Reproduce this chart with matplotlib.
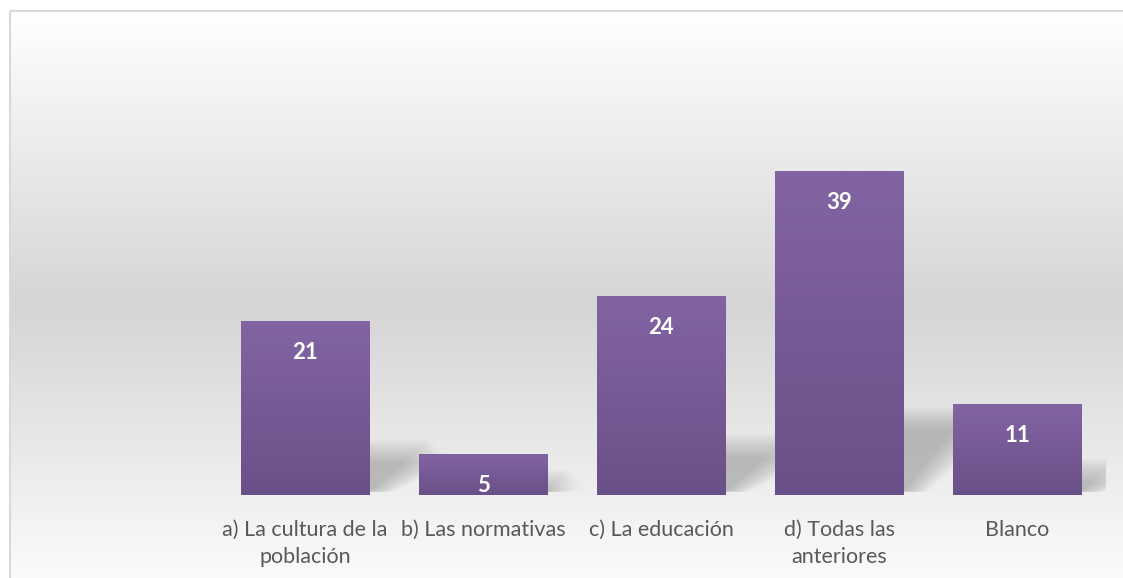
import numpy as np
import matplotlib
matplotlib.use("Agg")
import matplotlib.pyplot as plt
from matplotlib.colors import LinearSegmentedColormap
from matplotlib.patches import Rectangle, Polygon

# data
categories = ["", "a) La cultura de la\npoblación", "b) Las normativas",
              "c) La educación", "d) Todas las\nanteriores", "Blanco"]
values = [0, 21, 5, 24, 39, 11]

plt.rcParams['font.family'] = ['Lato', 'DejaVu Sans']

fig = plt.figure(figsize=(11.23, 5.78), dpi=100)

# background panel with vertical gradient
bg = fig.add_axes([0, 0, 1, 1])
bg.set_xlim(0, 1123)
bg.set_ylim(578, 0)
bg.axis("off")
bg_cmap = LinearSegmentedColormap.from_list(
    "bg", [(0, "#ffffff"), (0.52, "#d5d5d5"), (1.0, "#fbfbfb")])
grad = np.linspace(0, 1, 256).reshape(-1, 1)
bg.imshow(grad, cmap=bg_cmap, extent=[10, 1123, 578, 11], aspect="auto")
bg.add_patch(Rectangle((9.5, 10.5), 1130, 600, fill=False,
                       edgecolor="#d9d9d9", linewidth=1.5))

ax = fig.add_axes([38 / 1123, 83 / 578, 1068 / 1123, 415 / 578])
ax.patch.set_alpha(0)
x = np.arange(len(categories))
width = 0.72
ax.set_xlim(-0.5, len(categories) - 0.5)
ax.set_ylim(0, 50)

bar_cmap = LinearSegmentedColormap.from_list("bar", ["#8264a3", "#6a5088"])
bars = ax.bar(x, values, width=width, color="none", zorder=3)

for xi, v, b in zip(x, values, bars):
    if v <= 0:
        continue
    xl = xi - width / 2
    xr = xi + width / 2
    # soft skewed shadow behind the bar
    sy = 0.22 * v + 2.0
    sx = min(0.014 * v, 0.33) + 0.05
    for k in range(12):
        d = 0.012 * k
        poly = Polygon([(xl + 0.1, 0.4), (xr + d, 0.4),
                        (xr + sx + d, sy - k * 0.25), (xl + sx, sy - k * 0.25)],
                       closed=True, facecolor="#7a7a7a", alpha=0.045,
                       edgecolor="none", zorder=1)
        ax.add_patch(poly)
    im = ax.imshow(grad, cmap=bar_cmap, extent=[xl, xr, 0, v],
                   aspect="auto", zorder=3, interpolation="bilinear")
    im.set_clip_path(b)
    ax.text(xi, v - 3.8, str(v), ha="center", va="center", color="white",
            fontsize=16, fontweight="bold", zorder=4)

ax.set_xticks(x)
ax.set_xticklabels(categories, fontsize=15.5, color="#595959", linespacing=1.42)
ax.tick_params(axis="x", length=0, pad=18)
ax.set_yticks([])
for s in ax.spines.values():
    s.set_visible(False)

fig.savefig("out.png", dpi=100)
